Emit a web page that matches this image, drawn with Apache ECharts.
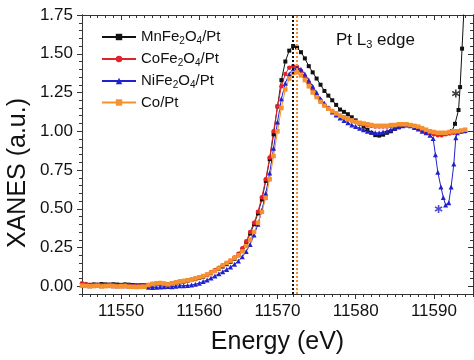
<!DOCTYPE html>
<html>
<head>
<meta charset="utf-8">
<script src="https://cdn.jsdelivr.net/npm/echarts@6/dist/echarts.min.js"></script>
<style>html,body{margin:0;padding:0;background:#fff}#c{width:474px;height:360px}</style>
</head>
<body>
<div id="c"></div>
<script>
// ---- data ----
var energy = [
 11545,11545.5,11546,11546.5,11547,11547.5,11548,11548.5,11549,11549.5,
 11550,11550.5,11551,11551.5,11552,11552.5,11553,11553.5,11554,11554.5,
 11555,11555.5,11556,11556.5,11557,11557.5,11558,11558.5,11559,11559.5,
 11560,11560.5,11561,11561.5,11562,11562.5,11563,11563.5,11564,11564.5,
 11565,11565.5,11566,11566.5,11567,11567.5,11568,11568.5,11569,11569.5,
 11570,11570.5,11571,11571.5,11572,11572.5,11573,11573.5,11574,11574.5,
 11575,11575.5,11576,11576.5,11577,11577.5,11578,11578.5,11579,11579.5,
 11580,11580.5,11581,11581.5,11582,11582.5,11583,11583.5,11584,11584.5,
 11585,11585.5,11586,11586.5,11587,11587.5,11588,11588.5,11589,11589.5,
 11590,11590.5,11591,11591.5,11592,11592.5,11593,11593.5,11594
];
var mnFe2O4 = [
 0.012,0.010,0.008,0.012,0.010,0.014,0.012,0.010,0.013,0.011,
 0.009,0.012,0.010,0.008,0.006,0.007,0.008,0.006,0.010,0.014,
 0.016,0.014,0.012,0.016,0.020,0.025,0.030,0.035,0.040,0.046,
 0.053,0.062,0.072,0.084,0.098,0.112,0.127,0.142,0.158,0.177,
 0.200,0.235,0.280,0.340,0.400,0.470,0.560,0.680,0.820,0.980,
 1.160,1.330,1.450,1.520,1.550,1.540,1.510,1.470,1.420,1.380,
 1.340,1.300,1.260,1.230,1.200,1.170,1.140,1.125,1.110,1.090,
 1.070,1.050,1.030,1.010,0.990,0.975,0.972,0.978,0.990,1.000,
 1.015,1.025,1.035,1.040,1.040,1.030,1.020,1.010,1.000,0.995,
 0.990,0.985,0.985,0.985,0.990,1.020,1.100,1.400,1.850
];
var coFe2O4 = [
 0.020,0.015,0.010,0.008,0.010,0.006,0.008,0.010,0.007,0.005,
 0.006,0.008,0.005,0.004,0.003,0.005,0.006,0.008,0.014,0.017,
 0.020,0.016,0.013,0.018,0.024,0.030,0.034,0.039,0.044,0.050,
 0.057,0.065,0.075,0.090,0.105,0.120,0.135,0.150,0.165,0.185,
 0.210,0.245,0.290,0.350,0.410,0.480,0.575,0.690,0.830,1.000,
 1.160,1.290,1.370,1.410,1.420,1.415,1.390,1.350,1.310,1.270,
 1.230,1.200,1.170,1.150,1.130,1.115,1.100,1.090,1.080,1.070,
 1.060,1.050,1.045,1.040,1.035,1.030,1.030,1.030,1.030,1.035,
 1.035,1.040,1.040,1.040,1.035,1.030,1.020,1.005,0.995,0.985,
 0.980,0.975,0.975,0.980,0.985,0.990,0.995,1.000,1.000
];
var niFe2O4 = [
 0.008,0.006,0.004,0.005,0.006,0.004,0.005,0.006,0.004,0.003,
 0.004,0.003,0.002,0.001,0.000,-0.001,-0.002,-0.006,-0.008,-0.007,
 -0.005,-0.004,-0.002,-0.003,0.000,0.003,0.004,0.005,0.008,0.013,
 0.020,0.030,0.040,0.053,0.066,0.080,0.094,0.108,0.124,0.142,
 0.163,0.190,0.225,0.270,0.330,0.400,0.490,0.600,0.730,0.890,
 1.060,1.210,1.310,1.370,1.400,1.410,1.400,1.370,1.330,1.290,
 1.250,1.210,1.180,1.150,1.125,1.105,1.085,1.070,1.055,1.040,
 1.030,1.020,1.010,1.000,0.995,0.990,0.990,0.995,1.000,1.010,
 1.020,1.030,1.035,1.040,1.035,1.025,1.015,1.000,0.990,0.975,
 0.955,0.740,0.640,0.525,0.540,0.790,0.990,1.000,1.005
];
var coPt = [
 0.004,0.002,0.000,0.001,0.003,-0.001,0.000,0.002,0.001,-0.002,
 0.000,0.001,-0.003,-0.004,-0.005,-0.004,-0.003,0.008,0.015,0.018,
 0.021,0.017,0.012,0.018,0.024,0.030,0.034,0.038,0.042,0.050,
 0.058,0.066,0.076,0.088,0.100,0.115,0.135,0.150,0.165,0.182,
 0.200,0.225,0.260,0.300,0.350,0.410,0.480,0.570,0.690,0.840,
 1.000,1.150,1.270,1.340,1.375,1.380,1.360,1.330,1.290,1.250,
 1.220,1.190,1.165,1.145,1.130,1.115,1.100,1.090,1.080,1.070,
 1.060,1.055,1.050,1.045,1.040,1.035,1.035,1.035,1.035,1.040,
 1.040,1.045,1.045,1.045,1.040,1.035,1.030,1.020,1.010,1.000,
 0.995,0.990,0.990,0.990,0.995,1.000,1.000,1.005,1.010
];
// finer-sampled sections
var niDipE = [11589.9,11590.2,11590.5,11590.9,11591.2,11591.5,11591.9,11592.2,11592.55,11592.8];
var niDipV = [0.953,0.848,0.736,0.640,0.573,0.524,0.539,0.640,0.788,0.958];
var mnTailE = [11592.3,11592.7,11593.15,11593.35,11593.6,11593.9];
var mnTailV = [1.000,1.048,1.137,1.285,1.533,1.850];
// asterisk markers
var starE = [11592.8, 11590.6];
var starV = [1.243, 0.499];
// edge positions (dotted lines)
var edgeMn = 11572.0;
var edgeCo = 11572.5;
// ticks
var xMajor = [11550,11560,11570,11580,11590];
var yMajor = [0,0.25,0.5,0.75,1.0,1.25,1.5,1.75];
var names = ['MnFe2O4/Pt','CoFe2O4/Pt','NiFe2O4/Pt','Co/Pt'];

function pairs(vals, skipLo, skipHi, extraE, extraV) {
  var out = [];
  for (var i = 0; i < energy.length; i++) {
    if (skipLo != null && energy[i] > skipLo && energy[i] < skipHi) continue;
    out.push([energy[i], vals[i]]);
  }
  if (extraE) for (var j = 0; j < extraE.length; j++) out.push([extraE[j], extraV[j]]);
  out.sort(function(a, b){ return a[0] - b[0]; });
  return out;
}
var xMinor = [], yMinor = [];
for (var e = 11545; e <= 11595; e++) xMinor.push(e);
for (var k = -1; k <= 35; k++) yMinor.push(Math.round(k * 5) / 100);

var FONT = 'Liberation Sans, Arial, sans-serif';
var AX = '#333';
function xAx(pos, ticks, len, inside, labels) {
  return {
    type: 'value', position: pos, min: 11545, max: 11595,
    axisLine: { show: true, onZero: false, lineStyle: { color: AX, width: 1 } },
    axisTick: { show: true, customValues: ticks, length: len, inside: inside, lineStyle: { color: AX } },
    axisLabel: labels ? { show: true, customValues: xMajor, margin: 9, fontSize: 17, color: '#111', fontFamily: FONT,
      formatter: function(v){ return String(Math.round(v)); } } : { show: false },
    splitLine: { show: false }
  };
}
function yAx(pos, ticks, len, inside, labels) {
  return {
    type: 'value', position: pos, min: -0.05, max: 1.75,
    axisLine: { show: true, onZero: false, lineStyle: { color: AX, width: 1 } },
    axisTick: { show: true, customValues: ticks, length: len, inside: inside, lineStyle: { color: AX } },
    axisLabel: labels ? { show: true, customValues: yMajor, margin: 9, fontSize: 17, color: '#111', fontFamily: FONT,
      formatter: function(v){ return v.toFixed(2); } } : { show: false },
    splitLine: { show: false }
  };
}
var xAxes = [xAx('bottom', xMajor, 5, false, true), xAx('bottom', xMinor, 3, false, false),
             xAx('top', xMajor, 5, true, false), xAx('top', xMinor, 3, true, false)];
xAxes[0].name = 'Energy (eV)';
xAxes[0].nameLocation = 'middle';
xAxes[0].nameGap = 36;
xAxes[0].nameTextStyle = { fontSize: 25, color: '#111', fontFamily: FONT };
var yAxes = [yAx('left', yMajor, 5, false, true), yAx('left', yMinor, 3, false, false),
             yAx('right', yMajor, 5, true, false), yAx('right', yMinor, 3, true, false)];

function lineSeries(name, data, color, symbol, size, edge) {
  var s = {
    name: name, type: 'line', data: data, xAxisIndex: 0, yAxisIndex: 0,
    symbol: symbol, symbolSize: size, showAllSymbol: true,
    itemStyle: { color: color },
    lineStyle: { color: color, width: 1 },
    animation: false
  };
  if (edge != null) {
    s.markLine = { silent: true, symbol: ['none', 'none'], label: { show: false },
      lineStyle: { color: color, type: 'dotted', width: 2 }, data: [{ xAxis: edge }] };
  }
  return s;
}
var colors = ['#111111', '#e3232c', '#2222cc', '#f5922f'];
var series = [
  lineSeries(names[0], pairs(mnFe2O4, 11592.1, 11600, mnTailE, mnTailV), colors[0], 'rect', 4, edgeMn),
  lineSeries(names[1], pairs(coFe2O4), colors[1], 'circle', 4.5, null),
  lineSeries(names[2], pairs(niFe2O4, 11589.7, 11592.9, niDipE, niDipV), colors[2], 'triangle', 5, null),
  lineSeries(names[3], pairs(coPt), colors[3], 'rect', 4.5, edgeCo),
  {
    type: 'scatter', name: 'stars', animation: false,
    symbol: 'path://M4,0h2v3.3l2.9,-1.7l1,1.7l-2.9,1.7l2.9,1.7l-1,1.7l-2.9,-1.7V10H4V6.7L1.1,8.4L0.1,6.7L3,5L0.1,3.3L1.1,1.6L4,3.3z',
    symbolSize: 8,
    data: [
      { value: [starE[0], starV[0]], itemStyle: { color: colors[0] } },
      { value: [starE[1], starV[1]], itemStyle: { color: colors[2] } }
    ]
  }
];

var subFmt = {
  'MnFe2O4/Pt': '{t|MnFe}{s|2}{t|O}{s|4}{t|/Pt}',
  'CoFe2O4/Pt': '{t|CoFe}{s|2}{t|O}{s|4}{t|/Pt}',
  'NiFe2O4/Pt': '{t|NiFe}{s|2}{t|O}{s|4}{t|/Pt}',
  'Co/Pt': '{t|Co/Pt}'
};

var chart = echarts.init(document.getElementById('c'), null, { renderer: 'canvas' });
chart.setOption({
  animation: false,
  backgroundColor: '#fff',
  grid: { left: 82, right: 1, top: 15, bottom: 62, containLabel: false },
  xAxis: xAxes,
  yAxis: yAxes,
  legend: {
    data: names, orient: 'vertical', left: 96, top: 24,
    itemWidth: 34, itemHeight: 8, itemGap: 5,
    formatter: function(n){ return subFmt[n]; },
    textStyle: {
      color: '#111', fontFamily: FONT,
      rich: {
        t: { fontSize: 15, fontFamily: FONT, color: '#111', lineHeight: 18 },
        s: { fontSize: 10, fontFamily: FONT, color: '#111', lineHeight: 18, verticalAlign: 'bottom', padding: [7, 0, 0, 0] }
      }
    }
  },
  graphic: [{
    type: 'text', left: 336, top: 31,
    style: {
      text: '{a|Pt L}{b|3}{a| edge}',
      rich: {
        a: { fontSize: 17, fontFamily: FONT, fill: '#111', lineHeight: 20 },
        b: { fontSize: 11, fontFamily: FONT, fill: '#111', lineHeight: 20, verticalAlign: 'bottom', padding: [8, 0, 0, 0] }
      }
    }
  }, {
    type: 'text', x: 18, y: 173, rotation: Math.PI / 2,
    style: { text: 'XANES (a.u.)', fontSize: 25, fontFamily: FONT, fill: '#111', align: 'center', verticalAlign: 'middle' }
  }],
  series: series
});
</script>
</body>
</html>
